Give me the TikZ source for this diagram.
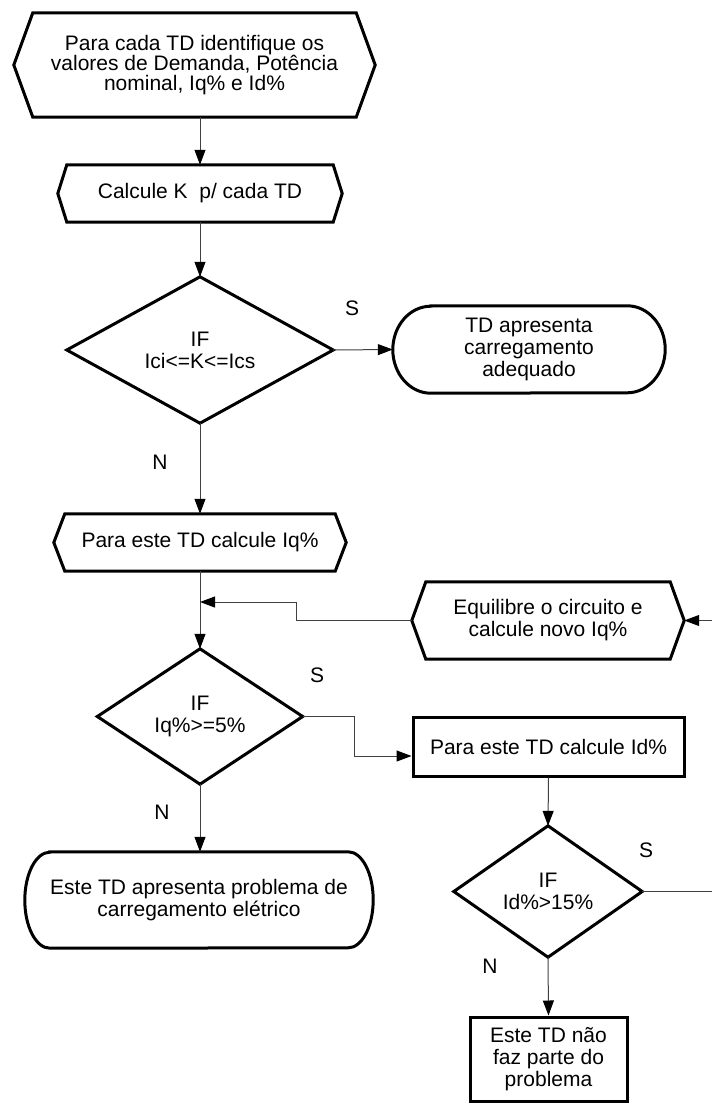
\documentclass[tikz,border=0pt]{standalone}
\usepackage{fontspec}
\setmainfont{Liberation Sans}
\usetikzlibrary{arrows.meta}
\begin{document}
\begin{tikzpicture}[x=1pt,y=-1pt,
  txt/.style={inner sep=0pt, align=center, font=\fontsize{21}{22}\selectfont},
  outline/.style={line width=3pt, line join=miter},
  conn/.style={line width=1pt, draw=black!75},
  arr/.style={conn, -{Triangle[length=15pt,width=11pt,color=black]}},
  lbl/.style={inner sep=0pt, font=\fontsize{21}{22}\selectfont}]
\useasboundingbox (0,0) rectangle (712,1107);

% hexagon 1
\node[txt, minimum width=361pt, minimum height=104pt, font=\fontsize{21}{20}\selectfont] (hex1) at (194.5,65)
  {Para cada TD identifique os\\valores de Demanda, Potência\\nominal, Iq\% e Id\%};
\draw[outline] (hex1.west) -- ([xshift=19pt]hex1.north west) -- ([xshift=-19pt]hex1.north east) -- (hex1.east)
  -- ([xshift=-19pt]hex1.south east) -- ([xshift=19pt]hex1.south west) -- cycle;

% hexagon 2
\node[txt, minimum width=284pt, minimum height=57pt] (hex2) at (200,193.5) {Calcule K\ \ p/ cada TD};
\draw[outline] (hex2.west) -- ([xshift=9pt]hex2.north west) -- ([xshift=-9pt]hex2.north east) -- (hex2.east)
  -- ([xshift=-9pt]hex2.south east) -- ([xshift=9pt]hex2.south west) -- cycle;

% diamond 1
\node[txt, minimum width=266pt, minimum height=146pt] (d1) at (200,350) {IF\\Ici<=K<=Ics};
\draw[outline] (d1.north) -- (d1.east) -- (d1.south) -- (d1.west) -- cycle;

% terminal 1
\node[txt, minimum width=272pt, minimum height=87pt] (t1) at (529,349.5) {TD apresenta\\carregamento\\adequado};
\draw[outline] ([xshift=38pt]t1.north west) -- ([xshift=-38pt]t1.north east)
  arc[start angle=90, end angle=-90, x radius=38pt, y radius=43.5pt]
  -- ([xshift=38pt]t1.south west)
  arc[start angle=270, end angle=90, x radius=38pt, y radius=43.5pt] -- cycle;

% hexagon 3
\node[txt, minimum width=292pt, minimum height=57pt] (hex3) at (200,542.5) {Para este TD calcule Iq\%};
\draw[outline] (hex3.west) -- ([xshift=11pt]hex3.north west) -- ([xshift=-11pt]hex3.north east) -- (hex3.east)
  -- ([xshift=-11pt]hex3.south east) -- ([xshift=11pt]hex3.south west) -- cycle;

% hexagon 4
\node[txt, minimum width=272pt, minimum height=77pt] (hex4) at (548,620.5) {Equilibre o circuito e\\calcule novo Iq\%};
\draw[outline] (hex4.west) -- ([xshift=14pt]hex4.north west) -- ([xshift=-14pt]hex4.north east) -- (hex4.east)
  -- ([xshift=-14pt]hex4.south east) -- ([xshift=14pt]hex4.south west) -- cycle;

% diamond 2
\node[txt, minimum width=205pt, minimum height=135pt] (d2) at (200,716.5) {IF\\Iq\%>=5\%};
\draw[outline] (d2.north) -- (d2.east) -- (d2.south) -- (d2.west) -- cycle;

% box 1
\node[txt, draw, outline, minimum width=271pt, minimum height=59pt] (box1) at (548.5,746.5) {Para este TD calcule Id\%};

% terminal 2
\node[txt, minimum width=348pt, minimum height=96pt] (t2) at (199,900) {Este TD apresenta problema de\\carregamento elétrico};
\draw[outline] ([xshift=25pt]t2.north west) -- ([xshift=-25pt]t2.north east)
  arc[start angle=90, end angle=-90, x radius=25pt, y radius=48pt]
  -- ([xshift=25pt]t2.south west)
  arc[start angle=270, end angle=90, x radius=25pt, y radius=48pt] -- cycle;

% diamond 3
\node[txt, minimum width=188pt, minimum height=131pt] (d3) at (548,891.5) {IF\\Id\%>15\%};
\draw[outline] (d3.north) -- (d3.east) -- (d3.south) -- (d3.west) -- cycle;

% box 2
\node[txt, draw, outline, minimum width=157pt, minimum height=84pt] (box2) at (548.5,1059) {Este TD não\\faz parte do\\problema};

% connectors
\draw[arr] (hex1.south -| hex2.north) -- (hex2.north);
\draw[arr] (hex2.south) -- (d1.north);
\draw[arr] (d1.east) -- (t1.west);
\draw[arr] (d1.south) -- (hex3.north);
\draw[arr] (hex3.south) -- (d2.north);
\coordinate (m) at (200,602);
\draw[arr] (hex4.west) -- ++(-115,0) |- (m);
\draw[arr] (d2.east) -- ++(52,0) |- ([yshift=-9.5pt]box1.west);
\draw[arr] (d2.south) -- (d2.south |- t2.north);
\draw[arr] (box1.south) -- (d3.north);
\coordinate (e1) at (712,891.5);
\coordinate (e2) at (712,620.5);
\draw[conn] (d3.east) -- (e1);
\draw[arr] (e2) -- (hex4.east);
\draw[arr] (d3.south) -- (box2.north);

% labels
\node[lbl] (s1) at (352,308) {S};
\node[lbl] (n1) at (160,462) {N};
\node[lbl] (s2) at (317,675) {S};
\node[lbl] (n2) at (162,812) {N};
\node[lbl] (s3) at (646,850) {S};
\node[lbl] (n3) at (490,966) {N};
\end{tikzpicture}
\end{document}
